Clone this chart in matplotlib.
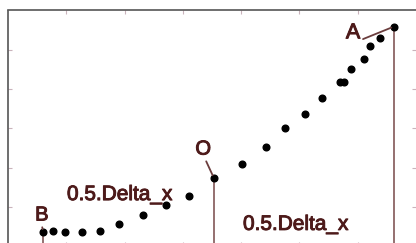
import matplotlib
matplotlib.use("Agg")
import matplotlib.pyplot as plt
import matplotlib.patheffects as pe

# data
xs = [0.60, 0.77, 0.97, 1.27, 1.58, 1.90, 2.32, 2.71, 3.11, 3.53, 4.01, 4.42,
      4.75, 5.10, 5.39, 5.70, 5.76, 5.88, 6.10, 6.21, 6.39, 6.62]
ys = [0.36, 0.38, 0.36, 0.36, 0.38, 0.56, 0.79, 1.05, 1.28, 1.74, 2.08, 2.52,
      3.01, 3.36, 3.77, 4.18, 4.19, 4.50, 4.76, 5.10, 5.29, 5.59]
idx_B, idx_O, idx_A = 0, 9, len(xs) - 1
labels = {"B": idx_B, "O": idx_O, "A": idx_A}
delta_label = "0.5.Delta_x"

W, H = 416, 243
fig = plt.figure(figsize=(W / 100, H / 100), dpi=100)
l, r, t, b = 8, 416, 10.5, 246
ax = fig.add_axes([l / W, (H - b) / H, (r - l) / W, (b - t) / H])
ax.set_xlim(0, 7)
ax.set_ylim(0, 6)
ax.set_xticks(range(1, 7))
ax.set_yticks(range(1, 6))
ax.tick_params(direction="in", length=3, width=0.8, color="#c9b3bb",
               top=True, right=True, labelleft=False, labelbottom=False)
for s in ["left", "top"]:
    ax.spines[s].set_color("#555555")
    ax.spines[s].set_linewidth(1.2)
ax.spines["right"].set_visible(False)
ax.spines["bottom"].set_visible(False)

txt_c = "#4d1a1a"
line_c = "#8c6464"
conn_c = "#6b3d3d"
heavy = [pe.withStroke(linewidth=0.7, foreground=txt_c)]

# vertical construction lines
for i in (idx_B, idx_O, idx_A):
    ax.vlines(xs[i], 0, ys[i], color=line_c, lw=1.3, zorder=2)

ax.plot(xs, ys, "o", color="black", ms=4.8, zorder=3, clip_on=False)

font = "Liberation Sans"
label_pos = {"A": (5.92, 5.43, (1.0, 0.15), 15.5), "O": (3.35, 2.47, (0.55, 0.1), 14.5),
             "B": (0.58, 0.79, (0.5, 0.0), 14.5)}
for name, i in labels.items():
    tx, ty, rel, fs = label_pos[name]
    ax.annotate(name, xy=(xs[i], ys[i]), xytext=(tx, ty), ha="center", va="center",
                fontsize=fs, family=font, color=txt_c, path_effects=heavy,
                arrowprops=dict(arrowstyle="-", color=conn_c, lw=1.3,
                                shrinkA=0, shrinkB=2, relpos=rel))

ax.text(1.92, 1.17, delta_label, ha="center", va="baseline", fontsize=15,
        family=font, color=txt_c, path_effects=heavy)
ax.text(4.94, 0.41, delta_label, ha="center", va="baseline", fontsize=15,
        family=font, color=txt_c, path_effects=heavy)

fig.savefig("out.png", dpi=100)
